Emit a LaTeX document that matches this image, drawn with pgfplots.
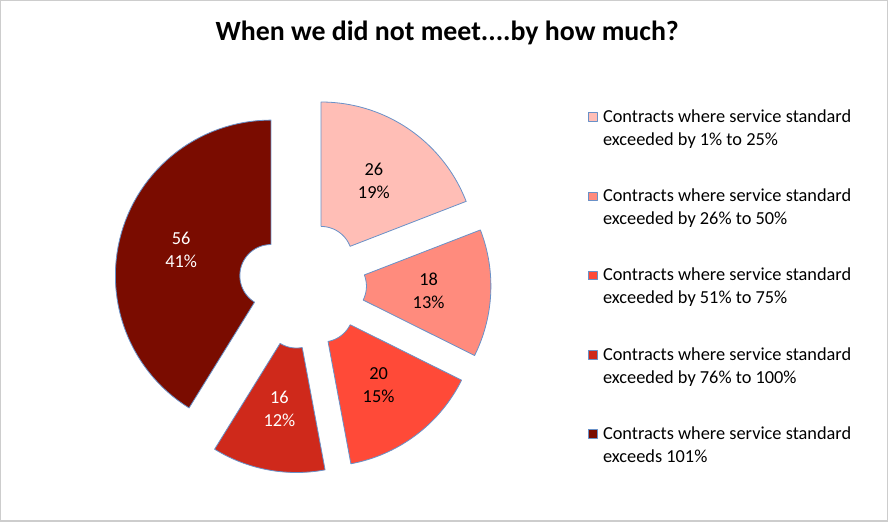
\documentclass[border=0pt]{standalone}
\usepackage{pgfplots}
\pgfplotsset{compat=1.18}
\usepackage{fontspec}
\setmainfont{Carlito}

\definecolor{cA}{RGB}{255,190,182}
\definecolor{cB}{RGB}{255,139,125}
\definecolor{cC}{RGB}{255,74,56}
\definecolor{cD}{RGB}{207,41,27}
\definecolor{cE}{RGB}{122,12,0}
\definecolor{edgeblue}{RGB}{105,145,200}
\definecolor{framegray}{RGB}{205,205,205}

\tikzset{slicelabel/.style={font=\fontsize{13.7}{17.25}\selectfont, align=center, inner sep=0pt}}

% data: 26, 18, 20, 16, 56
\def\total{136}
% geometry in image pixels (1px = 0.75pt)
\def\cx{303.8}\def\cy{237}\def\rout{155}\def\rin{31}\def\off{32.7}\def\rlab{93}
\xdef\cum{0}

\newcommand\legtext[1]{\begin{tabular}[t]{@{}l@{}}Contracts where service standard\\#1\end{tabular}}

\newcommand\pieslice[4]{%
  \pgfmathsetmacro\sA{90-\cum/\total*360}%
  \pgfmathsetmacro\sB{90-(\cum+#1)/\total*360}%
  \pgfmathsetmacro\sM{(\sA+\sB)/2}%
  \pgfmathsetmacro\sX{\cx+\off*cos(\sM)}%
  \pgfmathsetmacro\sY{\cy+\off*sin(\sM)}%
  \pgfmathsetmacro\lX{\sX+\rlab*cos(\sM)}%
  \pgfmathsetmacro\lY{\sY+\rlab*sin(\sM)}%
  \pgfmathtruncatemacro\pct{round(#1/\total*100)}%
  \pgfmathsetmacro\newcum{\cum+#1}\xdef\cum{\newcum}%
  \edef\doslice{%
    \noexpand\addplot[fill=#2, draw=edgeblue, line width=0.6pt, line join=round,
      domain=0:4, samples=241, variable=\noexpand\t]
      ({\sX+sliceR(\noexpand\t)*cos(sliceA(\noexpand\t,\sA,\sB))},
       {\sY+sliceR(\noexpand\t)*sin(sliceA(\noexpand\t,\sA,\sB))});
    \noexpand\node[slicelabel, text=#3] at (axis cs:\lX,\lY) {#1\noexpand\\\pct\noexpand\%};
  }%
  \doslice
}

\begin{document}
\begin{tikzpicture}
\begin{axis}[
  scale only axis, width=666pt, height=392.25pt,
  xmin=0, xmax=888, ymin=0, ymax=523,
  axis lines=none, ticks=none, clip=false,
  declare function={
    sliceR(\t)=ifthenelse(\t<1,\rin+(\rout-\rin)*\t,ifthenelse(\t<2,\rout,ifthenelse(\t<3,\rout-(\rout-\rin)*(\t-2),\rin)));
    sliceA(\t,\p,\q)=ifthenelse(\t<1,\p,ifthenelse(\t<2,\p+(\q-\p)*(\t-1),ifthenelse(\t<3,\q,\q-(\q-\p)*(\t-3))));
  },
  legend style={at={(axis cs:588,415)}, anchor=north west, draw=none, fill=none,
    font=\fontsize{13.7}{17.25}\selectfont, row sep=45.6pt, inner sep=0pt,
    cells={anchor=base west},
    nodes={inner sep=0pt},
    /tikz/every odd column/.append style={column sep=4pt}},
  legend image code/.code={\draw[#1, line width=0.6pt] (0pt,0.8pt) rectangle (6.6pt,7.2pt);},
]
\pieslice{26}{cA}{black}{}
\addlegendentry{\legtext{exceeded by 1\% to 25\%}}
\pieslice{18}{cB}{black}{}
\addlegendentry{\legtext{exceeded by 26\% to 50\%}}
\pieslice{20}{cC}{black}{}
\addlegendentry{\legtext{exceeded by 51\% to 75\%}}
\pieslice{16}{cD}{white}{}
\addlegendentry{\legtext{exceeded by 76\% to 100\%}}
\pieslice{56}{cE}{white}{}
\addlegendentry{\legtext{exceeds 101\%}}
\draw[framegray, line width=0.9pt] (axis cs:3,1.5) rectangle (axis cs:886.5,520);
\node[anchor=base, font=\bfseries\fontsize{20.8}{24}\selectfont] at (axis cs:448,480) {When we did not meet....by how much?};
\end{axis}
\end{tikzpicture}
\end{document}
